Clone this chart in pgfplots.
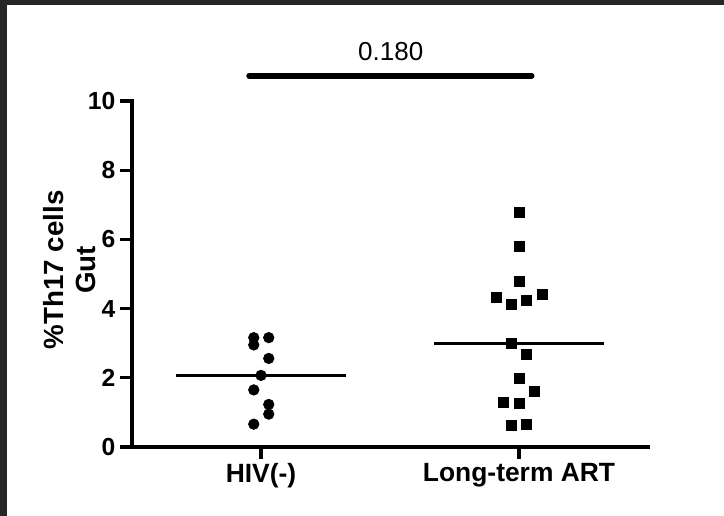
\documentclass[border=0pt]{standalone}
\usepackage{fontspec}
\setmainfont{Liberation Sans}
\usepackage{pgfplots}
\pgfplotsset{compat=1.18}
\definecolor{frame}{HTML}{262626}

\begin{document}
\begin{tikzpicture}
% page size and the dark frame at top and left
\path[use as bounding box] (0,0) rectangle (543pt,387pt);
\fill[white] (0,0) rectangle (543pt,387pt);
\fill[frame] (0,383.25pt) rectangle (543pt,387pt);
\fill[frame] (0,0) rectangle (5.25pt,387pt);

\begin{axis}[
    at={(99pt,51.75pt)}, anchor=south west,
    scale only axis,
    width=387pt, height=259.5pt,
    xmin=0.5, xmax=2.5,
    ymin=0, ymax=10,
    axis x line*=bottom, axis y line*=left,
    axis line style={line width=3.2pt, line cap=rect},
    every tick/.style={black, line width=2.5pt},
    tick align=outside,
    major tick length=9pt,
    xtick={1,2},
    xticklabels={HIV(-),Long-term ART},
    ytick={0,2,4,6,8,10},
    /pgf/number format/assume math mode=true,
    ticklabel style={font=\fontsize{18.5}{20}\selectfont\bfseries},
    x tick label style={font=\fontsize{19.8}{22}\selectfont\bfseries},
    ylabel={\%Th17 cells\\Gut},
    ylabel style={align=center, font=\fontsize{20.8}{24}\selectfont\bfseries,
        at={(axis description cs:-0.121,0.512)}, anchor=center},
    clip=false,
]

% HIV(-)
\addplot[only marks, mark=*, mark size=4pt, black] coordinates {
    (0.972,3.16) (0.972,2.95) (1.030,3.16) (1.030,2.56) (1.000,2.07)
    (0.972,1.65) (1.030,1.23) (1.030,0.95) (0.972,0.66)
};

% Long-term ART
\addplot[only marks, mark=square*, mark size=3.75pt, black] coordinates {
    (2.00,6.77) (2.00,5.81) (2.00,4.80) (1.91,4.33) (1.97,4.13)
    (2.03,4.23) (2.09,4.42) (1.97,2.99) (2.03,2.68) (2.00,1.99)
    (2.06,1.62) (1.94,1.29) (2.00,1.26) (1.97,0.62) (2.03,0.66)
};

% means
\addplot[black, line width=2.5pt] coordinates {(0.67,2.07) (1.33,2.07)};
\addplot[black, line width=2.5pt] coordinates {(1.67,2.99) (2.33,2.99)};

% significance bar
\addplot[black, line width=4.3pt, line cap=round] coordinates {(0.954,10.73) (2.049,10.73)};
\node[font=\fontsize{19.5}{22}\selectfont] at (axis cs:1.503,11.42) {0.180};

\end{axis}
\end{tikzpicture}
\end{document}
